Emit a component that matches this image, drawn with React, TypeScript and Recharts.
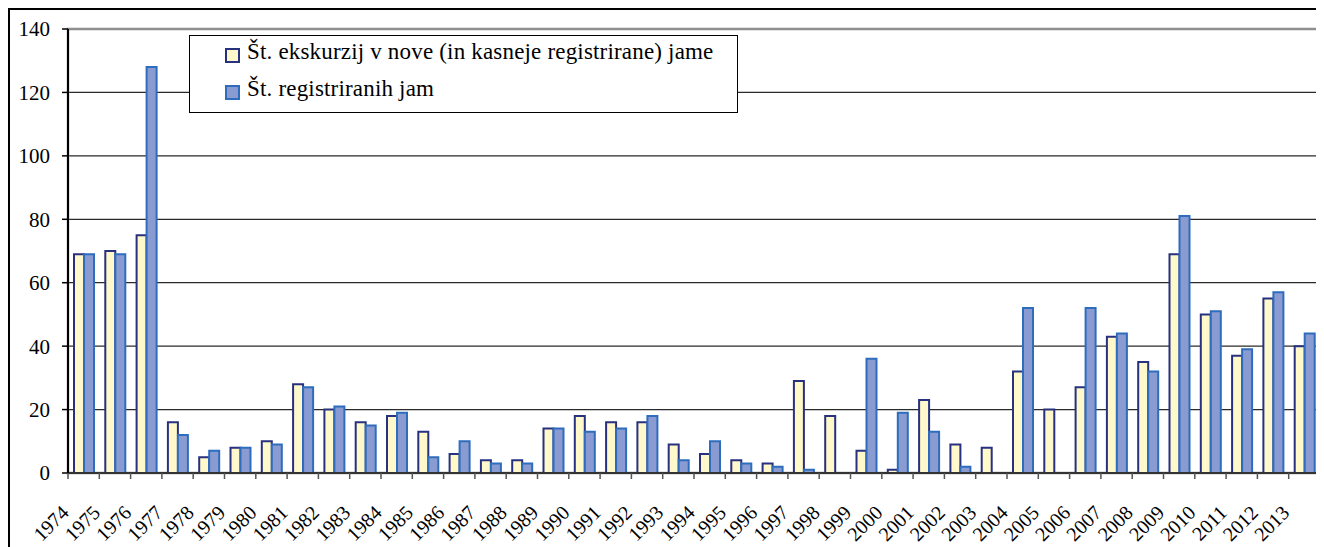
import React from 'react';
import { BarChart, Bar, XAxis, YAxis, CartesianGrid, ReferenceArea } from 'recharts';

const years = [
  '1974', '1975', '1976', '1977', '1978', '1979', '1980', '1981', '1982', '1983',
  '1984', '1985', '1986', '1987', '1988', '1989', '1990', '1991', '1992', '1993',
  '1994', '1995', '1996', '1997', '1998', '1999', '2000', '2001', '2002', '2003',
  '2004', '2005', '2006', '2007', '2008', '2009', '2010', '2011', '2012', '2013',
];

const excursions = [
  69, 70, 75, 16, 5, 8, 10, 28, 20, 16,
  18, 13, 6, 4, 4, 14, 18, 16, 16, 9,
  6, 4, 3, 29, 18, 7, 1, 23, 9, 8,
  32, 20, 27, 43, 35, 69, 50, 37, 55, 40,
];

const registered = [
  69, 69, 128, 12, 7, 8, 9, 27, 21, 15,
  19, 5, 10, 3, 3, 14, 13, 14, 18, 4,
  10, 3, 2, 1, 0, 36, 19, 13, 2, 0,
  52, 0, 52, 44, 32, 81, 51, 39, 57, 44,
];

const yTicks = [0, 20, 40, 60, 80, 100, 120, 140];

const seriesNames = [
  'Št. ekskurzij v nove (in kasneje registrirane) jame',
  'Št. registriranih jam',
];

const seriesColors = [
  { fill: '#FFF8CB', stroke: '#27317F' },
  { fill: '#8A9BD2', stroke: '#2E6DBD' },
];

const data = years.map((year, i) => ({
  year,
  exc: excursions[i],
  reg: registered[i],
}));

const FONT = 'Liberation Serif, Times New Roman, serif';
const TICK_SIZE = 6;
const CHART_W = 1314;
const CHART_H = 537;
const MARGIN = { top: 19, right: 4, bottom: 0, left: 0 };
const Y_AXIS_W = 58;

const XTick = (props: any) => {
  const { x, y, payload } = props;
  const half = payload && typeof payload.offset === 'number' ? payload.offset : 0;
  const bx = x - half;
  const axisY = y - TICK_SIZE;
  const px = bx + 2;
  const py = axisY + 41;
  return (
    <g>
      <line x1={bx} x2={bx} y1={axisY} y2={axisY + 6} stroke="#555" strokeWidth={1.5} />
      <text
        x={px}
        y={py}
        transform={`rotate(-45, ${px}, ${py})`}
        textAnchor="end"
        fontSize={20}
        style={{ fontFamily: FONT }}
        fill="#000"
      >
        {payload.value}
      </text>
    </g>
  );
};

const LegendBox = () => (
  <div
    style={{
      position: 'absolute',
      left: 179,
      top: 25,
      width: 547,
      height: 76,
      border: '1px solid #000',
      background: '#fff',
      fontFamily: FONT,
      fontSize: 23,
      letterSpacing: 0.18,
      color: '#000',
    }}
  >
    {seriesNames.map((name, i) => (
      <div
        key={name}
        style={{
          position: 'absolute',
          left: 35,
          top: -1 + i * 37,
          height: 34,
          display: 'flex',
          alignItems: 'center',
          whiteSpace: 'nowrap',
        }}
      >
        <span
          style={{
            display: 'inline-block',
            width: 11,
            height: 11,
            background: seriesColors[i].fill,
            border: `2px solid ${seriesColors[i].stroke}`,
            marginRight: 7,
            marginTop: 6,
          }}
        />
        <span>{name}</span>
      </div>
    ))}
  </div>
);

export default function App() {
  return (
    <div
      style={{
        position: 'relative',
        width: CHART_W,
        height: CHART_H,
        borderTop: '2px solid #000',
        borderLeft: '2px solid #000',
        background: '#fff',
        fontFamily: FONT,
      }}
    >
      <BarChart
        width={CHART_W}
        height={CHART_H}
        data={data}
        margin={MARGIN}
        barGap={0}
        barSize={10}
        style={{ fontFamily: FONT }}
      >
        <CartesianGrid
          yAxisId="l"
          vertical={false}
          stroke="#2a2a2a"
          strokeWidth={1.3}
        />
        <ReferenceArea
          yAxisId="l"
          y1={0}
          y2={140}
          fill="none"
          stroke="#8f8f8f"
          strokeWidth={2.5}
          ifOverflow="visible"
        />
        <Bar
          yAxisId="l"
          dataKey="exc"
          name={seriesNames[0]}
          fill={seriesColors[0].fill}
          stroke={seriesColors[0].stroke}
          strokeWidth={2}
          isAnimationActive={false}
        />
        <Bar
          yAxisId="l"
          dataKey="reg"
          name={seriesNames[1]}
          fill={seriesColors[1].fill}
          stroke={seriesColors[1].stroke}
          strokeWidth={2}
          isAnimationActive={false}
        />
        <XAxis
          dataKey="year"
          yAxisId="l"
          height={74}
          interval={0}
          tickSize={TICK_SIZE}
          tickMargin={0}
          tickLine={false}
          axisLine={{ stroke: '#333', strokeWidth: 2 }}
          tick={<XTick />}
        />
        <YAxis
          yAxisId="l"
          width={Y_AXIS_W}
          domain={[0, 140]}
          ticks={yTicks}
          interval={0}
          tickSize={6}
          tickMargin={12}
          axisLine={{ stroke: '#000', strokeWidth: 2 }}
          tickLine={{ stroke: '#000', strokeWidth: 1.5 }}
          tick={{ fontSize: 21, fill: '#000', style: { fontFamily: FONT } }}
        />
        <YAxis
          yAxisId="r"
          orientation="right"
          width={0}
          domain={[0, 140]}
          tick={false}
          tickLine={false}
          axisLine={false}
        />
      </BarChart>
      <LegendBox />
    </div>
  );
}
